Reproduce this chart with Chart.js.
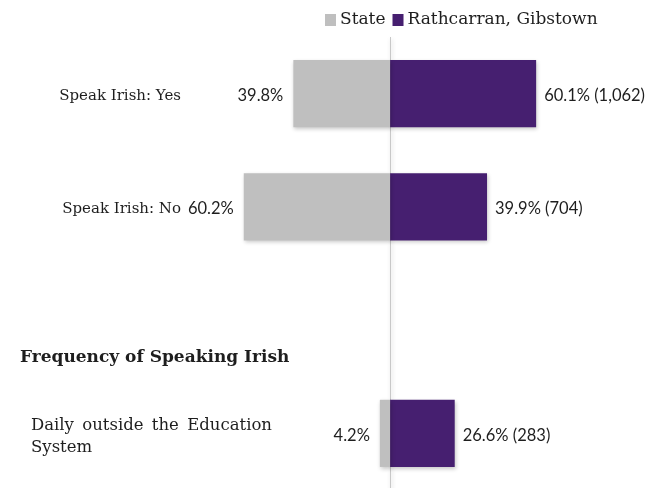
<!DOCTYPE html>
<html>
<head>
<meta charset="utf-8">
<script src="https://cdn.jsdelivr.net/npm/chart.js@4/dist/chart.umd.min.js"></script>
<style>
  html, body { margin: 0; padding: 0; background: #fff; overflow: hidden; }
  #wrap { width: 654px; height: 490px; }
</style>
</head>
<body>
<div id="wrap"><canvas id="irishChart"></canvas></div>
<script>
// data
const categories = ['Speak Irish: Yes', 'Speak Irish: No', '', ['Daily outside the Education', 'System']];
const stateValues = [39.8, 60.2, null, 4.2];
const localValues = [60.1, 39.9, null, 26.6];
const localCounts = [1062, 704, null, 283];
const seriesNames = ['State', 'Rathcarran, Gibstown'];
const sectionHeader = 'Frequency of Speaking Irish';

const grey = '#bfbfbf';
const purple = '#461f70';
const labelFont = '15px "DejaVu Serif"';
const valueFont = '16.5px Lato';

// soft shadow under the bars
const barShadow = {
    id: 'barShadow',
    beforeDatasetsDraw(chart) {
        const c = chart.ctx;
        c.save();
        c.shadowColor = 'rgba(0,0,0,0.22)';
        c.shadowBlur = 4;
        c.shadowOffsetX = 1;
        c.shadowOffsetY = 2;
    },
    afterDatasetsDraw(chart) {
        chart.ctx.restore();
    }
};

const extras = {
    id: 'extras',
    beforeDatasetsDraw(chart) {
        // centre line
        const c = chart.ctx;
        const x0 = Math.round(chart.scales.x.getPixelForValue(0)) + 0.5;
        c.save();
        c.strokeStyle = '#c8c8c8';
        c.lineWidth = 1;
        c.beginPath();
        c.moveTo(x0, chart.chartArea.top);
        c.lineTo(x0, chart.chartArea.bottom);
        c.stroke();
        c.restore();
    },
    afterDraw(chart) {
        const c = chart.ctx;
        const y = chart.scales.y;
        c.save();
        c.fillStyle = '#1e1e1e';
        c.textBaseline = 'middle';

        // value labels
        c.font = valueFont;
        chart.getDatasetMeta(0).data.forEach((bar, i) => {
            if (stateValues[i] == null) return;
            c.textAlign = 'right';
            c.fillText(stateValues[i].toFixed(1) + '%', bar.x - 10, bar.y + 2);
        });
        chart.getDatasetMeta(1).data.forEach((bar, i) => {
            if (localValues[i] == null) return;
            c.textAlign = 'left';
            const txt = localValues[i].toFixed(1) + '% (' + localCounts[i].toLocaleString('en-US') + ')';
            c.fillText(txt, bar.x + 8, bar.y + 2);
        });

        // category labels
        categories.forEach((lab, i) => {
            if (!lab) return;
            const py = y.getPixelForValue(i);
            if (Array.isArray(lab)) {
                c.font = '16.5px "DejaVu Serif"';
                const lineH = 22;
                const startY = py + 3 - (lab.length - 1) * lineH / 2;
                lab.forEach((line, k) => {
                    const ly = startY + k * lineH;
                    c.textAlign = 'left';
                    const words = line.split(' ');
                    if (k < lab.length - 1 && words.length > 1) {
                        // justified line
                        const full = 241;
                        const sum = words.reduce((s, w) => s + c.measureText(w).width, 0);
                        const gap = (full - sum) / (words.length - 1);
                        let xx = 31;
                        words.forEach(w => { c.fillText(w, xx, ly); xx += c.measureText(w).width + gap; });
                    } else {
                        c.fillText(line, 31, ly);
                    }
                });
            } else {
                c.font = labelFont;
                c.textAlign = 'right';
                c.fillText(lab, 181, py + 2);
            }
        });

        // section header
        c.font = 'bold 17px "DejaVu Serif"';
        c.textAlign = 'left';
        c.fillText(sectionHeader, 20, y.getPixelForValue(2.33));

        // legend
        c.font = '17px "DejaVu Serif"';
        let lx = 325;
        const colors = [grey, purple];
        seriesNames.forEach((name, k) => {
            c.fillStyle = colors[k];
            c.fillRect(lx, 14, 11, 12);
            lx += 15;
            c.fillStyle = '#1e1e1e';
            c.fillText(name, lx, 20);
            lx += c.measureText(name).width + 7;
        });
        c.restore();
    }
};

new Chart(document.getElementById('irishChart'), {
    type: 'bar',
    data: {
        labels: categories,
        datasets: [
            {
                label: seriesNames[0],
                data: stateValues.map(v => v == null ? null : -v),
                backgroundColor: grey
            },
            {
                label: seriesNames[1],
                data: localValues,
                backgroundColor: purple
            }
        ]
    },
    options: {
        indexAxis: 'y',
        responsive: true,
        maintainAspectRatio: false,
        animation: false,
        layout: { padding: { top: 37, bottom: 0, left: 0, right: 0 } },
        datasets: { bar: { barPercentage: 0.593, categoryPercentage: 1 } },
        scales: {
            x: { stacked: true, min: -160.5, max: 108.6, display: false },
            y: { stacked: true, display: false }
        },
        plugins: {
            legend: { display: false },
            tooltip: { enabled: false }
        }
    },
    plugins: [barShadow, extras]
});
</script>
</body>
</html>
